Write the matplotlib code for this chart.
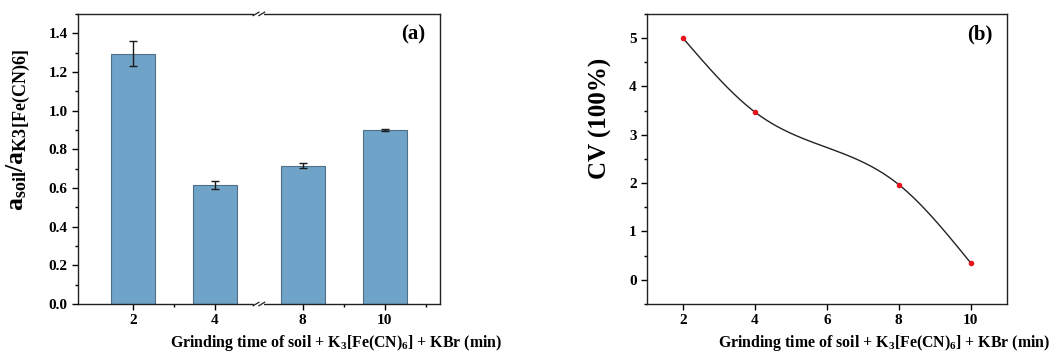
import numpy as np
import matplotlib
matplotlib.use("Agg")
import matplotlib.pyplot as plt
from matplotlib.ticker import MultipleLocator
import matplotlib.transforms as mtransforms

# ---- data ----
bar_labels = ["2", "4", "8", "10"]
bar_values = [1.295, 0.615, 0.715, 0.900]
bar_errors = [0.065, 0.020, 0.013, 0.003]

cv_x = [2, 4, 8, 10]
cv_y = [5.00, 3.47, 1.97, 0.35]

plt.rcParams['font.family'] = ['Liberation Serif', 'DejaVu Serif']
plt.rcParams['font.weight'] = 'bold'
plt.rcParams['mathtext.fontset'] = 'custom'
plt.rcParams['mathtext.rm'] = 'Liberation Serif:bold'
plt.rcParams['mathtext.it'] = 'Liberation Serif:bold'
plt.rcParams['mathtext.bf'] = 'Liberation Serif:bold'
plt.rcParams['mathtext.default'] = 'bf'

fig = plt.figure(figsize=(10.58, 3.56), dpi=100)
axa = fig.add_axes([0.0737, 0.146, 0.342, 0.815])
axb = fig.add_axes([0.6115, 0.146, 0.340, 0.815])

# ---- panel (a) ----
positions = np.array([1.0, 2.0, 3.07, 4.07])
axa.bar(positions, bar_values, width=0.54, color='#6fa3c7', edgecolor='#4f6f86',
        linewidth=0.8, yerr=bar_errors, capsize=3,
        error_kw=dict(ecolor='#1a1a1a', elinewidth=1.0, capthick=1.0))
axa.set_xlim(0.33, 4.74)
axa.set_ylim(0, 1.5)
axa.set_xticks(positions)
axa.set_xticklabels(bar_labels)
axa.set_xticks([1.5, 3.57, 4.57], minor=True)
axa.yaxis.set_minor_locator(MultipleLocator(0.1))
axa.set_yticks(np.arange(0, 1.41, 0.2))
axa.set_yticklabels([f"{v:.1f}" for v in np.arange(0, 1.41, 0.2)])
axa.tick_params(axis='both', which='major', direction='out', length=4, width=1, labelsize=11)
axa.tick_params(axis='both', which='minor', direction='out', length=2.5, width=1)
axa.tick_params(axis='y', which='both', right=False)
for s in axa.spines.values():
    s.set_linewidth(1.0)
    s.set_color('#222222')
axa.set_ylabel(r"$a_{soil}/a_{K3[Fe(CN)6]}$", fontsize=18.5)
axa.yaxis.set_label_coords(-0.125, 0.60)
axa.text(0.96, 0.93, "(a)", transform=axa.transAxes, ha='right', va='center',
         fontsize=15, fontweight='bold')

# axis break marks
brk = 2.535
trans = mtransforms.blended_transform_factory(axa.transData, axa.transAxes)
for yy in (0.0, 1.0):
    axa.plot([brk - 0.06, brk + 0.06], [yy, yy], transform=trans, color='white',
             lw=3, clip_on=False, zorder=5, solid_capstyle='butt')
    for dx in (-0.035, 0.035):
        axa.plot([brk + dx - 0.035, brk + dx + 0.035], [yy - 0.006, yy + 0.006],
                 transform=trans, color='#222222', lw=0.9, clip_on=False, zorder=6)
fig.text(0.161, 0.037, r"Grinding time of soil + K$_3$[Fe(CN)$_6$] + KBr (min)",
         fontsize=11.4, fontweight='bold', ha='left', va='center')

# ---- panel (b) ----
def natural_spline(x, y, xs):
    x = np.asarray(x, float); y = np.asarray(y, float)
    n = len(x); h = np.diff(x)
    A = np.zeros((n, n)); r = np.zeros(n)
    A[0, 0] = A[-1, -1] = 1
    for i in range(1, n - 1):
        A[i, i - 1] = h[i - 1]; A[i, i] = 2 * (h[i - 1] + h[i]); A[i, i + 1] = h[i]
        r[i] = 3 * ((y[i + 1] - y[i]) / h[i] - (y[i] - y[i - 1]) / h[i - 1])
    c = np.linalg.solve(A, r)
    b = (y[1:] - y[:-1]) / h - h * (2 * c[:-1] + c[1:]) / 3
    d = (c[1:] - c[:-1]) / (3 * h)
    idx = np.clip(np.searchsorted(x, xs) - 1, 0, n - 2)
    t = xs - x[idx]
    return y[idx] + b[idx] * t + c[idx] * t ** 2 + d[idx] * t ** 3

xs = np.linspace(cv_x[0], cv_x[-1], 300)
axb.plot(xs, natural_spline(cv_x, cv_y, xs), color='#222222', lw=1.0)
axb.plot(cv_x, cv_y, 'o', color='#e8141c', markersize=3, zorder=3)
axb.set_xlim(1, 11)
axb.set_ylim(-0.5, 5.5)
axb.set_xticks([2, 4, 6, 8, 10])
axb.xaxis.set_minor_locator(MultipleLocator(1))
axb.set_yticks([0, 1, 2, 3, 4, 5])
axb.yaxis.set_minor_locator(MultipleLocator(0.5))
axb.tick_params(axis='both', which='major', direction='out', length=4, width=1, labelsize=11)
axb.tick_params(axis='both', which='minor', direction='out', length=2.5, width=1)
axb.tick_params(axis='x', which='minor', bottom=False)
for s in axb.spines.values():
    s.set_linewidth(1.0)
    s.set_color('#222222')
axb.set_ylabel("CV (100%)", fontsize=18, fontweight='bold')
axb.yaxis.set_label_coords(-0.097, 0.64)
axb.text(0.96, 0.93, "(b)", transform=axb.transAxes, ha='right', va='center',
         fontsize=15, fontweight='bold')
fig.text(0.679, 0.037, r"Grinding time of soil + K$_3$[Fe(CN)$_6$] + KBr (min)",
         fontsize=11.4, fontweight='bold', ha='left', va='center')

fig.savefig("out.png", dpi=100)
